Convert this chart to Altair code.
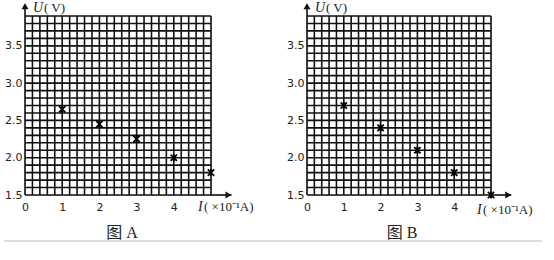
import altair as alt
import pandas as pd
import numpy as np

# ---- data ----
current_A = [1, 2, 3, 4, 5]          # I (x10^-1 A)
voltage_A = [2.65, 2.45, 2.25, 2.0, 1.8]
current_B = [1, 2, 3, 4, 5]
voltage_B = [2.7, 2.4, 2.1, 1.8, 1.5]
x_ticks = [0, 1, 2, 3, 4]
y_ticks = [1.5, 2.0, 2.5, 3.0, 3.5]
panel_titles = ["图 A", "图 B"]
x_label = "( ×10⁻¹A)"
y_label = "( V)"

X_MIN, X_MAX, X_STEP = 0.0, 5.0, 0.2
Y_MIN, Y_MAX, Y_STEP = 1.5, 3.9, 0.1
grid_x = list(np.round(np.arange(X_MIN, X_MAX + 1e-9, X_STEP), 2))
grid_y = list(np.round(np.arange(Y_MIN, Y_MAX + 1e-9, Y_STEP), 2))

LABEL_FONT = "DejaVu Sans"
SERIF = "Liberation Serif"
INK = "#111111"

star = "M-1,-1L1,1M-1,1L1,-1M0,-1.1L0,1.1"


def panel(cur, volt, title, w, h, title_dx, sep_left, sep_right, xlab_dx, xlab_dy):
    xs = alt.Scale(domain=[X_MIN, X_MAX], nice=False, zero=False)
    ys = alt.Scale(domain=[Y_MIN, Y_MAX], nice=False, zero=False)
    xa = alt.Axis(values=x_ticks, title=None, grid=False, domain=False, ticks=False,
                  labelFont=LABEL_FONT, labelFontSize=11, labelPadding=6,
                  labelColor="#222", labelFlush=False)
    ya = alt.Axis(values=y_ticks, format=".1f", title=None, grid=False, domain=False,
                  ticks=False, labelFont=LABEL_FONT, labelFontSize=11, labelPadding=3,
                  labelColor="#222", labelFlush=False)

    vlines = pd.DataFrame({"x": grid_x, "y": Y_MIN, "y2": Y_MAX})
    hlines = pd.DataFrame({"y": grid_y, "x": X_MIN, "x2": X_MAX})

    vgrid = alt.Chart(vlines).mark_rule(color=INK, strokeWidth=1.6).encode(
        x=alt.X("x:Q", scale=xs, axis=xa),
        y=alt.Y("y:Q", scale=ys, axis=ya),
        y2="y2:Q",
    )
    hgrid = alt.Chart(hlines).mark_rule(color=INK, strokeWidth=1.6).encode(
        x=alt.X("x:Q", scale=xs, axis=xa),
        x2="x2:Q",
        y=alt.Y("y:Q", scale=ys, axis=ya),
    )

    # axis arrows
    yext = alt.Chart(pd.DataFrame({"x": [X_MIN], "y": [Y_MAX], "y2": [4.05]})).mark_rule(
        color=INK, strokeWidth=1.6, clip=False).encode(
        x=alt.X("x:Q", scale=xs, axis=xa), y=alt.Y("y:Q", scale=ys, axis=ya), y2="y2:Q")
    yhead = alt.Chart(pd.DataFrame({"x": [X_MIN], "y": [4.03]})).mark_point(
        shape="triangle-up", filled=True, color=INK, size=50, opacity=1, clip=False).encode(
        x=alt.X("x:Q", scale=xs, axis=xa), y=alt.Y("y:Q", scale=ys, axis=ya))
    xext = alt.Chart(pd.DataFrame({"x": [X_MAX], "x2": [5.55], "y": [Y_MIN]})).mark_rule(
        color=INK, strokeWidth=1.6, clip=False).encode(
        x=alt.X("x:Q", scale=xs, axis=xa), x2="x2:Q", y=alt.Y("y:Q", scale=ys, axis=ya))
    xhead = alt.Chart(pd.DataFrame({"x": [5.47], "y": [Y_MIN]})).mark_point(
        shape="triangle-right", filled=True, color=INK, size=50, opacity=1, clip=False).encode(
        x=alt.X("x:Q", scale=xs, axis=xa), y=alt.Y("y:Q", scale=ys, axis=ya))

    pts = alt.Chart(pd.DataFrame({"I": cur, "U": volt})).mark_point(
        shape=star, filled=False, stroke="#000", strokeWidth=1.8, size=40, opacity=1,
        clip=False).encode(
        x=alt.X("I:Q", scale=xs, axis=xa), y=alt.Y("U:Q", scale=ys, axis=ya))

    # axis name texts
    u_txt = alt.Chart(pd.DataFrame({"t": ["U"]})).mark_text(
        font=SERIF, fontStyle="italic", fontSize=14, align="left", baseline="middle",
        color="#222").encode(text="t:N", x=alt.value(8), y=alt.value(-8))
    v_txt = alt.Chart(pd.DataFrame({"t": [y_label]})).mark_text(
        font=SERIF, fontSize=13, align="left", baseline="middle",
        color="#222").encode(text="t:N", x=alt.value(19), y=alt.value(-8))
    i_txt = alt.Chart(pd.DataFrame({"t": ["I"]})).mark_text(
        font=SERIF, fontStyle="italic", fontSize=14, align="left", baseline="middle",
        color="#222").encode(text="t:N", x=alt.value(xlab_dx), y=alt.value(xlab_dy))
    a_txt = alt.Chart(pd.DataFrame({"t": [x_label]})).mark_text(
        font=SERIF, fontSize=13, align="left", baseline="middle",
        color="#222").encode(text="t:N", x=alt.value(xlab_dx + 6), y=alt.value(xlab_dy))

    ttl = alt.Chart(pd.DataFrame({"t": [title]})).mark_text(
        font=f"{SERIF}, Noto Sans CJK SC", fontSize=16, align="center",
        baseline="middle", color="#222").encode(
        text="t:N", x=alt.value(title_dx), y=alt.value(217))

    sep = alt.Chart(pd.DataFrame({"t": [0]})).mark_rule(color="#dcdcdc", strokeWidth=2).encode(
        x=alt.value(sep_left), x2=alt.value(sep_right), y=alt.value(225))

    return alt.layer(vgrid, hgrid, yext, yhead, xext, xhead, pts,
                     u_txt, v_txt, i_txt, a_txt, ttl, sep).properties(width=w, height=h)


pA = panel(current_A, voltage_A, panel_titles[0], 186, 179, 97, -21, 256, 173, 191)
pB = panel(current_B, voltage_B, panel_titles[1], 184, 179, 95, -30, 235, 170, 194)

chart = alt.hconcat(pA, pB, spacing=96, bounds="flush").properties(
    padding={"left": 2, "top": 0, "right": 0, "bottom": 0}
).configure_view(stroke=None).configure(background="white")

chart.save("out.html", embed_options={"renderer": "svg", "actions": False})
